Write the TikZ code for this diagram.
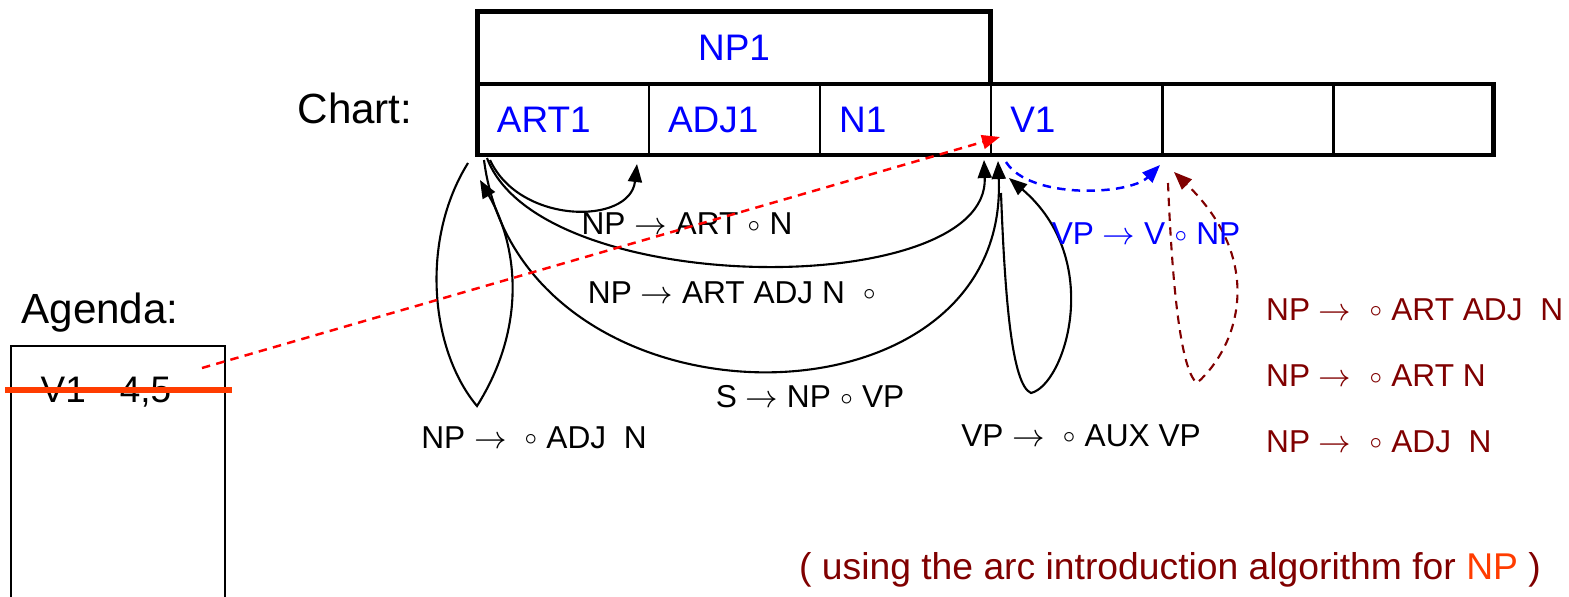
\documentclass[tikz,border=0pt]{standalone}
\usepackage{fontspec}
\setmainfont{Liberation Sans}
\usepackage{tikz}
\usetikzlibrary{positioning,arrows.meta}
\definecolor{chartblue}{RGB}{0,0,255}
\definecolor{rulered}{RGB}{128,0,0}
\definecolor{hilite}{RGB}{255,60,0}
\definecolor{pickred}{RGB}{255,0,0}
\tikzset{
  cell/.style   = {draw, line width=0.7pt, minimum height=0.71cm, inner xsep=0.19cm, inner ysep=0pt, outer sep=0pt, text width=1.33cm, align=left, font=\fontsize{10.5}{12}\selectfont, text=chartblue},
  npbox/.style  = {draw, line width=1.4pt, minimum width=5.12cm, minimum height=0.72cm, outer sep=0pt, font=\fontsize{10.5}{12}\selectfont, text=chartblue},
  lbl/.style    = {font=\fontsize{9}{11}\selectfont, inner sep=1pt},
  arc/.style    = {-{Triangle[length=1.8mm,width=1.4mm]}, line width=0.6pt},
  pick/.style   = {-{Triangle[length=1.8mm,width=1.4mm]}, line width=0.7pt, draw=pickred, dash pattern=on 2.4pt off 1.8pt},
  vparc/.style  = {-{Triangle[length=1.8mm,width=1.4mm]}, line width=0.7pt, draw=chartblue, dash pattern=on 2.4pt off 1.8pt},
  introarc/.style = {-{Triangle[length=1.8mm,width=1.4mm]}, line width=0.6pt, draw=rulered, dash pattern=on 2.4pt off 1.8pt},
  strike/.style = {line width=1.5pt, draw=hilite},
}
\newcommand{\dotm}{\raisebox{0.12em}{$\scriptstyle\circ$}}

\begin{document}
\begin{tikzpicture}[x=0.01cm, y=-0.01cm]
  \useasboundingbox (0,0) rectangle (1569,597);

  \node[cell] (art) at (563.5,119.5) {ART1};
  \node[cell, right=0pt of art] (adj) {ADJ1};
  \node[cell, right=0pt of adj] (n1) {N1};
  \node[cell, right=0pt of n1] (v1) {V1};
  \node[cell, right=0pt of v1] (c5) {};
  \node[cell, right=0pt of c5, text width=1.22cm] (c6) {};
  \draw[line width=1.4pt] (art.north west) rectangle (c6.south east);
  \node[npbox, anchor=south west] (np1) at (art.north west) {NP1};
  \node[font=\fontsize{12}{14}\selectfont] (chart) at (355,108) {Chart:};

  \node[font=\fontsize{12}{14}\selectfont] (agendalbl) at (100,313) {Agenda:};
  \node[draw, line width=0.6pt, minimum width=2.14cm, minimum height=2.6cm, inner sep=0pt, anchor=north west] (agenda) at (10,345) {};
  \node[font=\fontsize{10.5}{12}\selectfont] (item) at (106,392) {V1\hspace{0.34cm}4,5};
  \draw[strike] (5,390) -- (232,390);

  \coordinate (la) at (468,163);
  \coordinate (lb) at (477,406);
  \coordinate (lc) at (480,180);
  \coordinate (a1) at (490,160);
  \coordinate (a2) at (637,164);
  \coordinate (b1) at (487,158);
  \coordinate (b2) at (984,160);
  \coordinate (s1) at (484,160);
  \coordinate (s2) at (998,161);
  \coordinate (va) at (1001,193);
  \coordinate (vb) at (1031,393);
  \coordinate (vc) at (1009,178);
  \coordinate (w1) at (1006,162);
  \coordinate (w2) at (1160,165);
  \coordinate (ia) at (1168,183);
  \coordinate (ib) at (1197,383);
  \coordinate (ic) at (1174,172);

  \draw[arc] (la) .. controls (420,240) and (430,350) .. (lb) .. controls (525,330) and (520,250) .. (lc);
  \draw[arc] (a1) .. controls (520,225) and (630,225) .. (a2);
  \draw[arc] (b1) .. controls (540,300) and (990,300) .. (b2);
  \draw[arc] (s1) .. controls (520,440) and (1010,440) .. (s2);
  \draw[arc] (va) .. controls (1005,300) and (1012,385) .. (vb) .. controls (1065,385) and (1105,260) .. (vc);
  \draw[vparc] (w1) .. controls (1030,200) and (1130,195) .. (w2);
  \draw[introarc] (ia) .. controls (1172,280) and (1180,370) .. (ib) .. controls (1240,345) and (1265,260) .. (ic);

  \node[lbl] (r1) at (687,224) {NP $\rightarrow$ ART \dotm{} N};
  \node[lbl] (r2) at (732,293) {NP $\rightarrow$ ART ADJ N \ \dotm};
  \node[lbl] (r3) at (810,397) {S $\rightarrow$ NP \dotm{} VP};
  \node[lbl] (r4) at (534,438) {NP $\rightarrow$ \ \dotm{} ADJ\ \ N};
  \node[lbl] (r5) at (1081,436) {VP $\rightarrow$ \ \dotm{} AUX VP};
  \node[lbl, text=chartblue] (r6) at (1146,234) {VP $\rightarrow$ V \dotm{} NP};

  \node[lbl, text=rulered, anchor=west] (p1) at (1262,310) {NP $\rightarrow$ \ \dotm{} ART ADJ\ \ N};
  \node[lbl, text=rulered, anchor=west] (p2) at (1262,376) {NP $\rightarrow$ \ \dotm{} ART N};
  \node[lbl, text=rulered, anchor=west] (p3) at (1262,442) {NP $\rightarrow$ \ \dotm{} ADJ\ \ N};

  \node[font=\fontsize{10.6}{12}\selectfont, text=rulered] (note) at (1170,570) {( using the arc introduction algorithm for \textcolor{hilite}{NP} )};

  \coordinate (pk) at (202,368);
  \coordinate (vt) at (1000,137);
  \draw[pick] (pk) -- (vt);
\end{tikzpicture}
\end{document}
